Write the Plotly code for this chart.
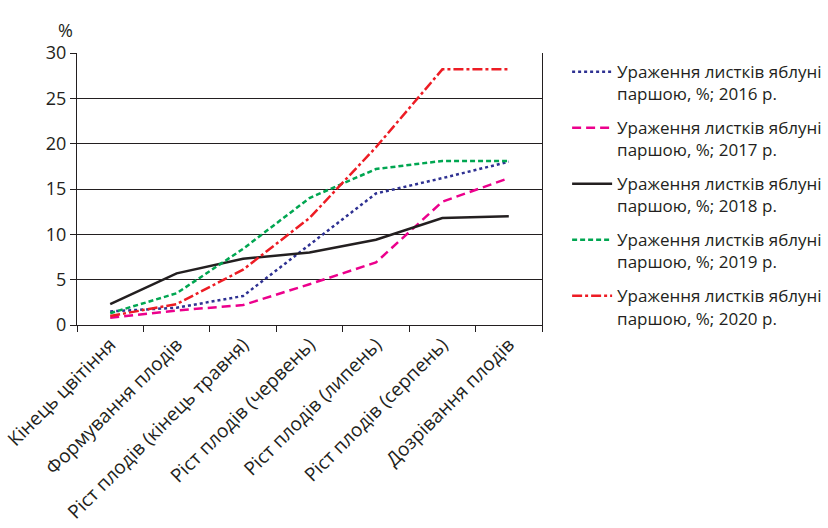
import plotly.graph_objects as go

# Phenological stages of apple trees
stages = [
    "Кінець цвітіння",
    "Формування плодів",
    "Ріст плодів (кінець травня)",
    "Ріст плодів (червень)",
    "Ріст плодів (липень)",
    "Ріст плодів (серпень)",
    "Дозрівання плодів",
]

# Leaf scab infection, %, by year
scab_2016 = [1.5, 1.9, 3.2, 8.8, 14.5, 16.2, 18.0]
scab_2017 = [0.8, 1.6, 2.2, 4.5, 6.9, 13.6, 16.2]
scab_2018 = [2.3, 5.7, 7.3, 8.0, 9.4, 11.8, 12.0]
scab_2019 = [1.3, 3.5, 8.4, 14.0, 17.2, 18.1, 18.1]
scab_2020 = [1.0, 2.3, 6.1, 11.8, 19.6, 28.2, 28.2]

y_ticks = [0, 5, 10, 15, 20, 25, 30]

series = [
    ("Ураження листків яблуні<br>паршою, %; 2016 р.", scab_2016, "#2e3192", "dot"),
    ("Ураження листків яблуні<br>паршою, %; 2017 р.", scab_2017, "#ec008c", "9px,5px"),
    ("Ураження листків яблуні<br>паршою, %; 2018 р.", scab_2018, "#231f20", "solid"),
    ("Ураження листків яблуні<br>паршою, %; 2019 р.", scab_2019, "#00a651", "5px,3px"),
    ("Ураження листків яблуні<br>паршою, %; 2020 р.", scab_2020, "#ed1c24", "10px,3px,3px,3px"),
]

FONT = "Open Sans"
INK = "#231f20"

fig = go.Figure()
legend_layout = {}
for i, (name, vals, color, dash) in enumerate(series):
    key = "legend" if i == 0 else f"legend{i + 1}"
    fig.add_trace(go.Scatter(
        x=stages, y=vals, name=name, mode="lines",
        legend=key,
        line=dict(color=color, width=2.5, dash=dash),
    ))
    # one legend box per series, stacked down the right-hand side
    legend_layout[key] = dict(
        x=1.054, y=0.996 - i * 0.206, xanchor="left", yanchor="top",
        font=dict(family=FONT, size=17, color=INK),
        valign="top", itemwidth=40,
        bgcolor="rgba(0,0,0,0)",
    )

fig.update_layout(
    width=828, height=528,
    margin=dict(l=77, r=286, t=53, b=203, autoexpand=False),
    plot_bgcolor="white", paper_bgcolor="white",
    font=dict(family=FONT, color=INK, size=16),
    showlegend=True,
    xaxis=dict(
        type="category", range=[-0.5, 6.5], automargin=False,
        tickson="boundaries", ticks="outside", ticklen=6, tickwidth=1.2,
        tickcolor=INK, tickangle=-45,
        tickfont=dict(family=FONT, size=19, color=INK),
        showline=True, linecolor=INK, linewidth=1.2,
        showgrid=False, mirror=False,
    ),
    yaxis=dict(
        range=[0, 30], tickvals=y_ticks, ticks="outside", ticklen=6,
        tickwidth=1.2, tickcolor=INK, automargin=False,
        tickfont=dict(family=FONT, size=18, color=INK),
        showline=True, linecolor=INK, linewidth=1.2, mirror=True,
        showgrid=True, gridcolor=INK, gridwidth=1.1,
        zeroline=False,
    ),
    annotations=[dict(
        text="%", xref="paper", yref="paper", x=-0.045, y=1.135,
        showarrow=False, font=dict(family=FONT, size=18, color=INK),
    )],
    **legend_layout,
)

fig.write_html("out.html")
